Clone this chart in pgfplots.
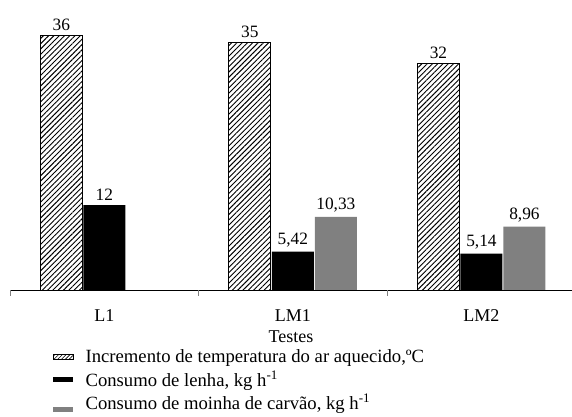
\documentclass[border=0pt]{standalone}
\usepackage{fontspec}
\setmainfont{Liberation Serif}
\usepackage{pgfplots}
\pgfplotsset{compat=1.18}
\usetikzlibrary{patterns,patterns.meta}
\definecolor{bargray}{RGB}{128,128,128}
\begin{document}
\begin{tikzpicture}
\useasboundingbox (0,0) rectangle (429pt,312.75pt);
\begin{axis}[
  at={(7.5pt,95.25pt)}, anchor=south west,
  scale only axis, width=421.5pt, height=212.4pt,
  xmin=-0.5, xmax=2.48, ymin=0, ymax=40,
  axis y line=none, axis x line*=bottom,
  xtick={0,1,2}, xticklabels={L1,LM1,LM2},
  major tick length=0pt,
  extra x ticks={-0.5,0.5,1.5}, extra x tick labels={},
  extra x tick style={major tick length=4.5pt, xtick align=outside},
  xticklabel style={font=\fontsize{13.5}{15}\selectfont, yshift=-11pt},
  xlabel={Testes},
  xlabel style={font=\fontsize{13.5}{15}\selectfont, yshift=4pt},
  ybar, 
  bar width=31.5pt,
  point meta=explicit symbolic,
  nodes near coords={\pgfplotspointmeta},
  every node near coord/.append style={font=\fontsize{13}{15}\selectfont, anchor=south, inner sep=3pt},
  legend cell align=left,
  legend style={draw=none, fill=none, at={(rel axis cs:0,0)}, anchor=north west,
    xshift=32pt, yshift=-42.5pt, inner sep=0pt, row sep=0.5pt,
    font=\fontsize{14}{16}\selectfont,
    /tikz/every odd column/.append style={column sep=7pt}},
]
\addplot[draw=black, line width=0.6pt, pattern={Lines[angle=45,distance=2.8pt,line width=0.7pt]}, bar shift=-32.25pt,
  legend image code/.code={\draw[line width=0.5pt, pattern={Lines[angle=45,distance=2pt,line width=0.5pt]}] (0pt,-2pt) rectangle (15pt,2pt);}]
  coordinates {(0,36) [36] (1,35) [35] (2,32) [32]};
\addlegendentry{Incremento de temperatura do ar aquecido,ºC}
\addplot[draw=none, fill=black, bar shift=0pt,
  legend image code/.code={\fill[black] (0pt,-2pt) rectangle (15pt,2pt);}]
  coordinates {(0,12) [12] (1,5.42) [{5,42}] (2,5.14) [{5,14}]};
\addlegendentry{Consumo de lenha, kg h\textsuperscript{-1}}
\addplot[draw=none, fill=bargray, bar shift=32.25pt,
  legend image code/.code={\fill[bargray] (0pt,-7pt) rectangle (15pt,-3pt);}]
  coordinates {(1,10.33) [{10,33}] (2,8.96) [{8,96}]};
\addlegendentry{Consumo de moinha de carvão, kg h\textsuperscript{-1}}
\end{axis}
\end{tikzpicture}
\end{document}
